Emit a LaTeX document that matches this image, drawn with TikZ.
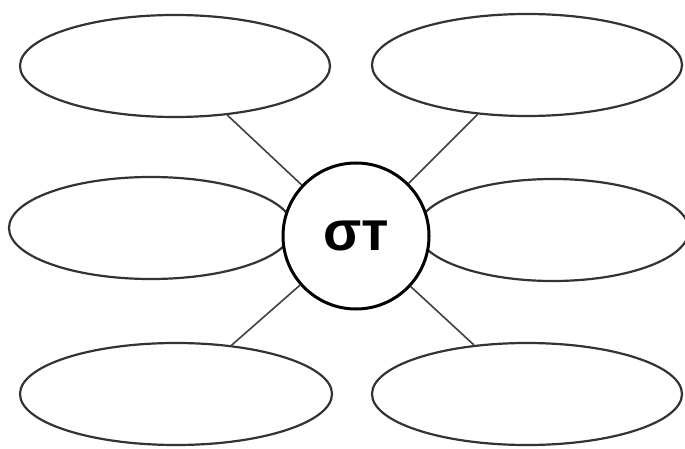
\documentclass[tikz,border=0pt]{standalone}
\usepackage{fontspec}
\setmainfont{Liberation Sans}
\usetikzlibrary{positioning,shapes.geometric}

\begin{document}
\begin{tikzpicture}[
        x=1pt, y=-1pt,
        bubble/.style={ellipse, draw=black!80, line width=2.2pt, minimum width=#1, minimum height=102pt, inner sep=0pt},
        hub/.style={circle, draw=black, fill=white, line width=3pt, minimum size=146pt, inner sep=0pt, font=\bfseries\fontsize{56}{60}\selectfont},
        link/.style={draw=black!75, line width=1.6pt}
    ]
    \useasboundingbox[fill=white] (0,0) rectangle (685,449);
    \node[bubble=310pt] (tl) at (175,66) {};
    \node[bubble=310pt] (tr) at (527,65) {};
    \node[bubble=284pt] (ml) at (151,228) {};
    \node[bubble=272pt] (mr) at (553,230) {};
    \node[bubble=312pt] (bl) at (176,394) {};
    \node[bubble=310pt] (br) at (527,394) {};
    \node[hub] (c) at (356,236) {\raisebox{-4pt}{σт}};

    \draw[link] (tl) -- (c);
    \draw[link] (tr) -- (c);
    \draw[link] (bl) -- (c);
    \draw[link] (br) -- (c);
\end{tikzpicture}
\end{document}
